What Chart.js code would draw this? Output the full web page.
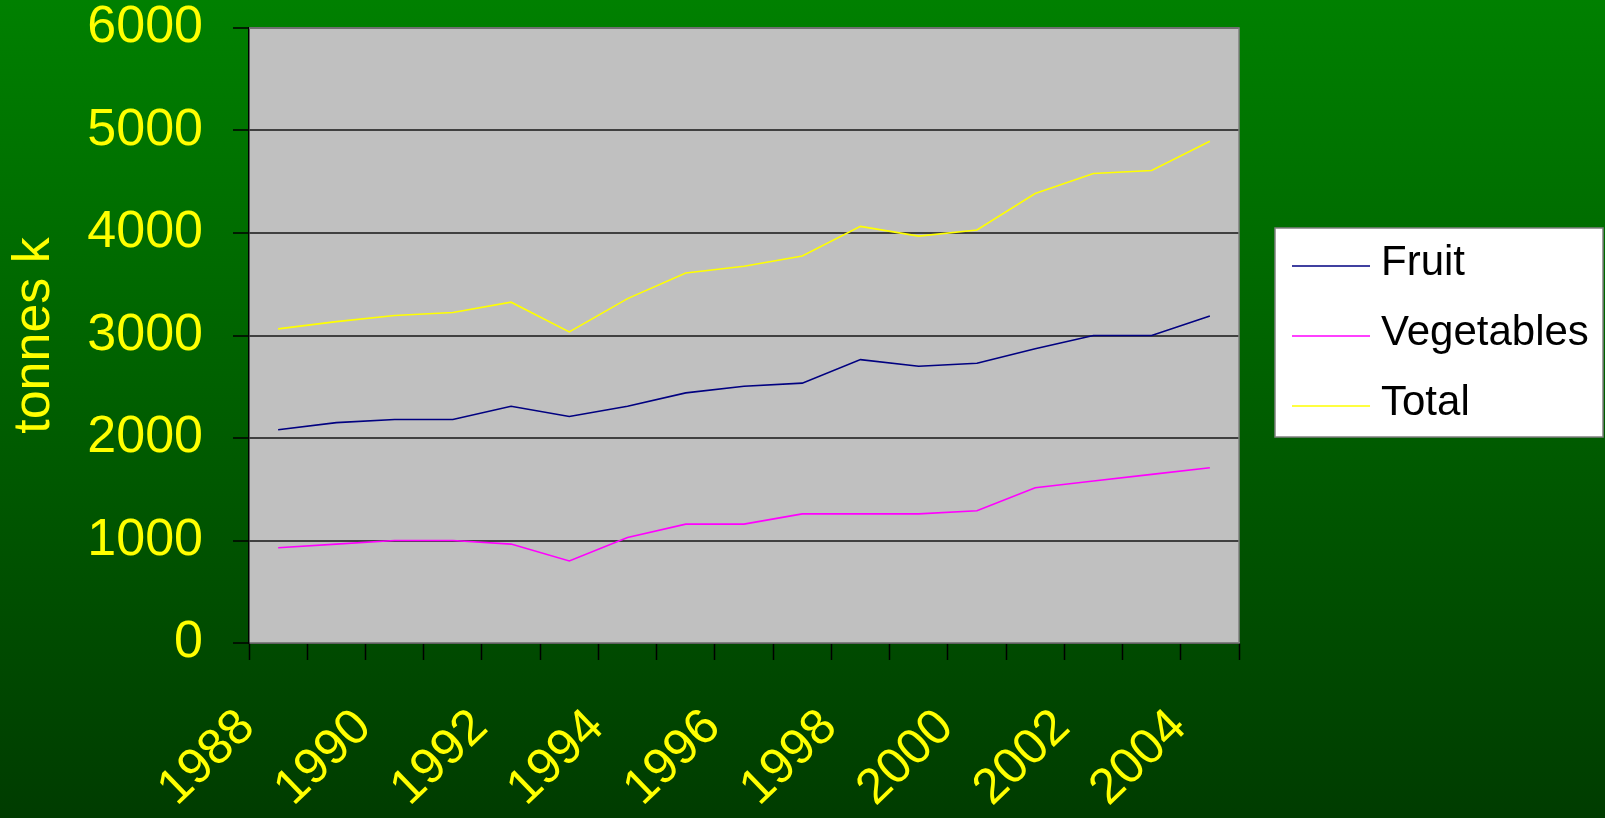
<!DOCTYPE html>
<html>
<head>
<meta charset="utf-8">
<script src="https://cdn.jsdelivr.net/npm/chart.js@4/dist/chart.umd.min.js"></script>
<style>
  html, body { margin: 0; padding: 0; background: #006000; }
  #wrap { width: 1605px; height: 818px; position: relative; }
</style>
</head>
<body>
<div id="wrap"><canvas id="tonnageChart"></canvas></div>
<script>
const years = ['1988', '1989', '1990', '1991', '1992', '1993', '1994', '1995', '1996',
               '1997', '1998', '1999', '2000', '2001', '2002', '2003', '2004'];
const labelledYears = ['1988', '1990', '1992', '1994', '1996', '1998', '2000', '2002', '2004'];
const fruit = [2080, 2150, 2180, 2180, 2310, 2210, 2310, 2440, 2505, 2535, 2765, 2700, 2730, 2870, 3000, 3000, 3190];
const vegetables = [930, 965, 1000, 1000, 965, 800, 1030, 1160, 1160, 1260, 1260, 1260, 1290, 1515, 1580, 1645, 1710];
const total = [3065, 3135, 3195, 3225, 3325, 3035, 3360, 3610, 3675, 3775, 4065, 3970, 4030, 4385, 4580, 4610, 4895];
const yTicks = [0, 1000, 2000, 3000, 4000, 5000, 6000];

const FONT = "'Liberation Sans', Arial, sans-serif";
const YELLOW = '#ffff00';

// green gradient page + grey plot area
const backdrop = {
    id: 'backdrop',
    beforeDraw(chart) {
        const { ctx, width, height, chartArea: a } = chart;
        ctx.save();
        const g = ctx.createLinearGradient(0, 0, 0, height);
        g.addColorStop(0, '#008000');
        g.addColorStop(1, '#003c00');
        ctx.fillStyle = g;
        ctx.fillRect(0, 0, width, height);
        ctx.fillStyle = '#c0c0c0';
        ctx.fillRect(a.left, a.top, a.right - a.left, a.bottom - a.top);
        ctx.restore();
    },
    beforeDatasetsDraw(chart) {
        const { ctx, chartArea: a } = chart;
        ctx.save();
        ctx.strokeStyle = '#808080';
        ctx.lineWidth = 1.5;
        ctx.beginPath();
        ctx.moveTo(a.left, a.top);
        ctx.lineTo(a.right, a.top);
        ctx.lineTo(a.right, a.bottom);
        ctx.stroke();
        ctx.restore();
    }
};

// boxed legend to the right of the plot
const boxLegend = {
    id: 'boxLegend',
    afterDraw(chart) {
        const { ctx } = chart;
        const box = { x: 1275, y: 228, w: 328, h: 209 };
        ctx.save();
        ctx.fillStyle = '#ffffff';
        ctx.fillRect(box.x, box.y, box.w, box.h);
        ctx.strokeStyle = '#808080';
        ctx.lineWidth = 1.5;
        ctx.strokeRect(box.x, box.y, box.w, box.h);
        ctx.font = '42px ' + FONT;
        ctx.textBaseline = 'middle';
        ctx.fillStyle = '#000000';
        chart.data.datasets.forEach((ds, i) => {
            const y = 266 + i * 70;
            ctx.strokeStyle = ds.borderColor;
            ctx.lineWidth = 1.5;
            ctx.beginPath();
            ctx.moveTo(1292, y);
            ctx.lineTo(1370, y);
            ctx.stroke();
            ctx.fillText(ds.label, 1381, y - 3);
        });
        ctx.restore();
    }
};

const ctx = document.getElementById('tonnageChart');

new Chart(ctx, {
    type: 'line',
    data: {
        labels: years,
        datasets: [
            { label: 'Fruit', data: fruit, borderColor: '#000080' },
            { label: 'Vegetables', data: vegetables, borderColor: '#ff00ff' },
            { label: 'Total', data: total, borderColor: '#ffff00' }
        ]
    },
    options: {
        responsive: true,
        maintainAspectRatio: false,
        animation: false,
        devicePixelRatio: 1,
        layout: {
            padding: { left: 0, top: 28, right: 366, bottom: 0 }
        },
        elements: {
            line: { borderWidth: 1.6, tension: 0, fill: false },
            point: { radius: 0, hoverRadius: 0 }
        },
        plugins: {
            legend: { display: false },
            tooltip: { enabled: false }
        },
        scales: {
            x: {
                offset: true,
                afterFit: (s) => { s.height = 175; s.paddingLeft = 0; s.paddingRight = 0; },
                grid: {
                    offset: true,
                    drawOnChartArea: false,
                    tickLength: 17,
                    tickColor: '#000000',
                    tickWidth: 1.5
                },
                border: { color: '#808080', width: 1.5 },
                ticks: {
                    autoSkip: false,
                    minRotation: 44,
                    maxRotation: 44,
                    padding: 38,
                    labelOffset: -31,
                    color: YELLOW,
                    font: { family: FONT, size: 50 },
                    callback: (v, i) => labelledYears.includes(years[i]) ? years[i] : ''
                }
            },
            y: {
                min: 0,
                max: 6000,
                afterFit: (s) => { s.width = 249; s.paddingTop = 0; s.paddingBottom = 0; },
                afterBuildTicks: (s) => { s.ticks = yTicks.map(v => ({ value: v })); },
                grid: {
                    color: '#404040',
                    lineWidth: 2,
                    tickColor: '#000000',
                    tickLength: 16,
                    tickWidth: 1.5
                },
                border: { color: '#000000', width: 1.5 },
                ticks: {
                    padding: 30,
                    color: YELLOW,
                    font: { family: FONT, size: 52 },
                    callback: (v) => String(v)
                },
                title: {
                    display: true,
                    text: 'tonnes k',
                    color: YELLOW,
                    padding: { top: 3, bottom: 0 },
                    font: { family: FONT, size: 52 }
                }
            }
        }
    },
    plugins: [backdrop, boxLegend]
});
</script>
</body>
</html>
